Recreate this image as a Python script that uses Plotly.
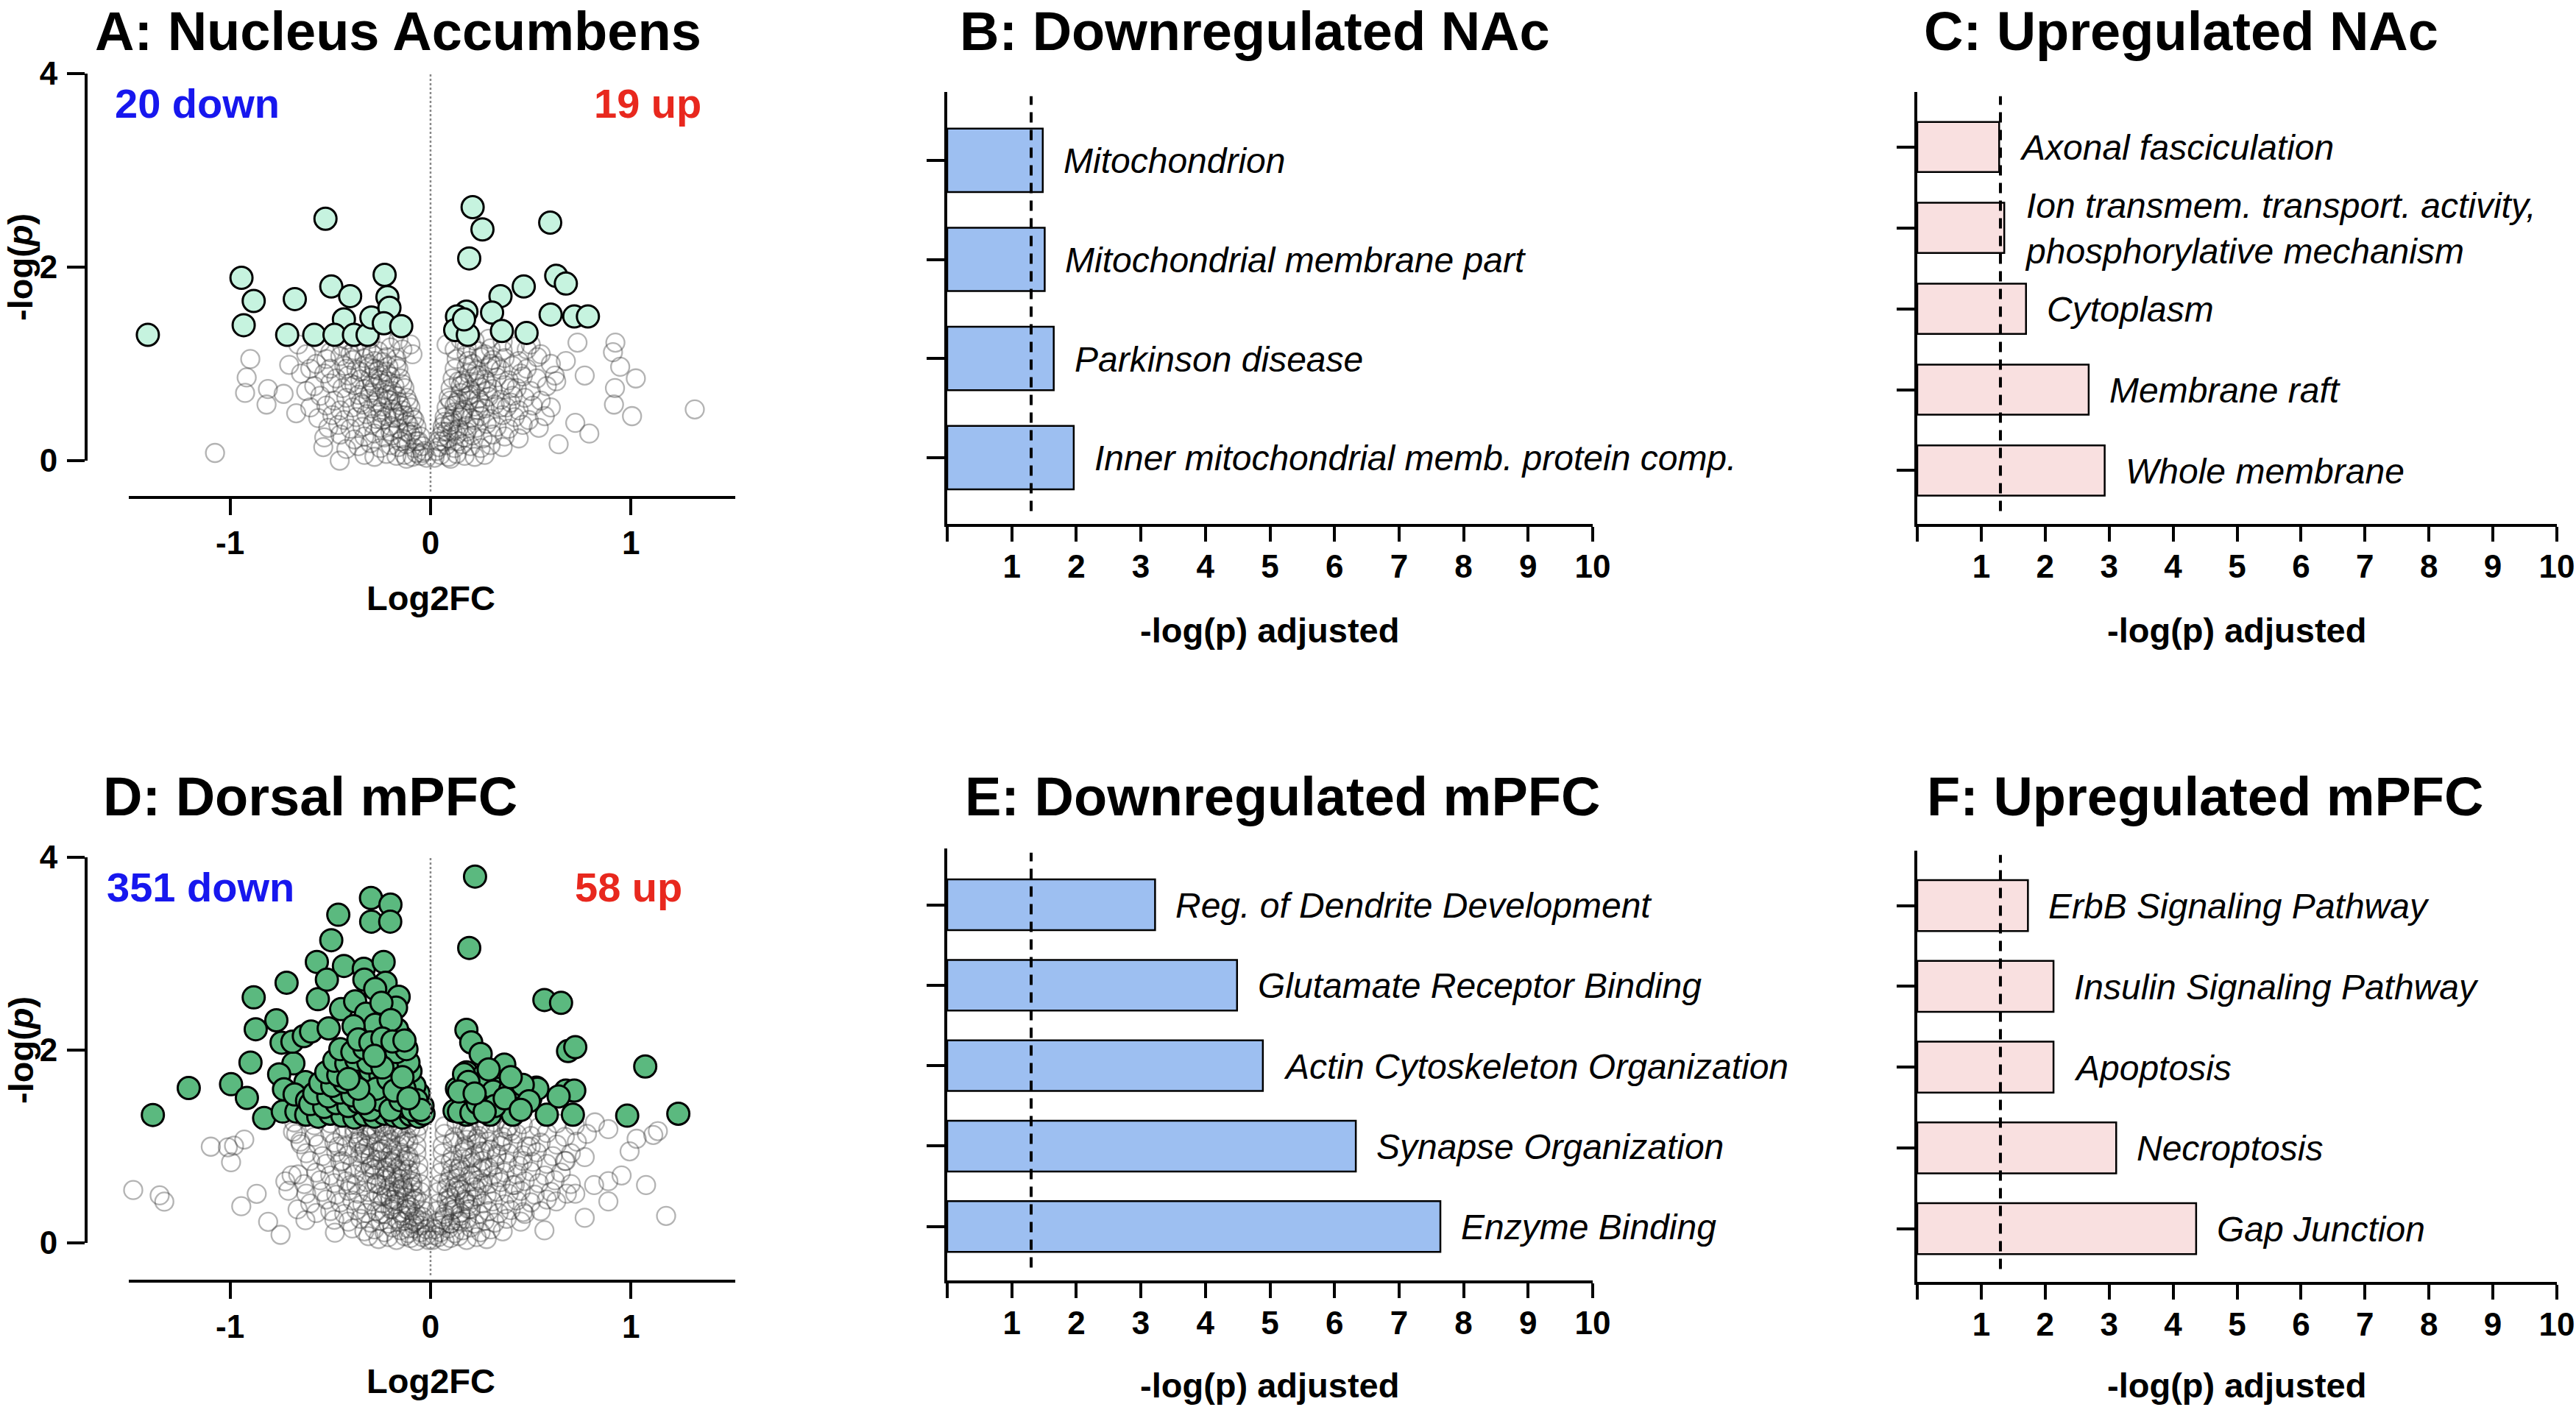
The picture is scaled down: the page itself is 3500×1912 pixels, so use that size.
import plotly.graph_objects as go

W, H = 3500, 1912
FONT = "Liberation Sans, Arial, Helvetica, sans-serif"

# ---------------- Panel A: Nucleus Accumbens volcano ----------------
nac_down_x = [-1.41, -0.943, -0.882, -0.932, -0.677, -0.715, -0.580, -0.524, -0.495, -0.401,
              -0.432, -0.479, -0.382, -0.314, -0.295, -0.229, -0.215, -0.205, -0.233, -0.146]
nac_down_y = [1.30, 1.89, 1.65, 1.40, 1.67, 1.30, 1.30, 2.50, 1.80, 1.70,
              1.46, 1.30, 1.30, 1.30, 1.48, 1.92, 1.69, 1.58, 1.42, 1.39]
nac_up_x = [0.210, 0.259, 0.193, 0.597, 0.627, 0.675, 0.465, 0.349, 0.307, 0.179,
            0.132, 0.123, 0.186, 0.356, 0.479, 0.599, 0.717, 0.785, 0.167]
nac_up_y = [2.62, 2.39, 2.09, 2.46, 1.91, 1.83, 1.80, 1.70, 1.53, 1.54,
            1.49, 1.35, 1.30, 1.34, 1.32, 1.51, 1.49, 1.49, 1.46]

nac_background = [
    # left arm
    (-0.02, 0.03), (-0.05, 0.05), (-0.09, 0.04), (-0.13, 0.06), (-0.17, 0.05), (-0.22, 0.07), (-0.28, 0.04), (-0.33, 0.06), (-0.12, 0.02), (-0.07, 0.08),
    (-0.04, 0.15), (-0.08, 0.13), (-0.12, 0.17), (-0.16, 0.14), (-0.20, 0.16), (-0.25, 0.13), (-0.30, 0.18), (-0.36, 0.15), (-0.42, 0.12),
    (-0.05, 0.25), (-0.10, 0.27), (-0.14, 0.23), (-0.19, 0.26), (-0.23, 0.24), (-0.28, 0.28), (-0.33, 0.25), (-0.38, 0.22), (-0.45, 0.27), (-0.53, 0.24),
    (-0.07, 0.35), (-0.11, 0.37), (-0.16, 0.33), (-0.20, 0.36), (-0.25, 0.34), (-0.29, 0.38), (-0.34, 0.35), (-0.40, 0.33), (-0.46, 0.37), (-0.51, 0.34),
    (-0.09, 0.45), (-0.13, 0.47), (-0.18, 0.44), (-0.22, 0.46), (-0.27, 0.43), (-0.32, 0.48), (-0.37, 0.45), (-0.43, 0.42), (-0.49, 0.47), (-0.56, 0.44),
    (-0.10, 0.55), (-0.15, 0.57), (-0.19, 0.53), (-0.24, 0.56), (-0.29, 0.54), (-0.34, 0.58), (-0.39, 0.55), (-0.45, 0.52), (-0.52, 0.57), (-0.60, 0.55),
    (-0.12, 0.65), (-0.17, 0.67), (-0.21, 0.63), (-0.26, 0.66), (-0.31, 0.64), (-0.36, 0.68), (-0.42, 0.65), (-0.48, 0.62), (-0.55, 0.67), (-0.62, 0.72),
    (-0.13, 0.75), (-0.18, 0.77), (-0.23, 0.73), (-0.28, 0.76), (-0.33, 0.74), (-0.38, 0.78), (-0.44, 0.75), (-0.50, 0.80), (-0.58, 0.77),
    (-0.15, 0.85), (-0.20, 0.87), (-0.25, 0.83), (-0.30, 0.86), (-0.35, 0.84), (-0.41, 0.88), (-0.47, 0.85), (-0.53, 0.90),
    (-0.16, 0.95), (-0.21, 0.97), (-0.26, 0.93), (-0.31, 0.96), (-0.37, 0.94), (-0.43, 0.98), (-0.50, 0.95), (-0.57, 1.00),
    (-0.17, 1.05), (-0.22, 1.07), (-0.28, 1.03), (-0.33, 1.06), (-0.39, 1.04), (-0.45, 1.08), (-0.52, 1.05),
    (-0.14, 1.15), (-0.20, 1.17), (-0.26, 1.13), (-0.32, 1.16), (-0.38, 1.14), (-0.44, 1.18), (-0.50, 1.12),
    (-0.16, 1.25), (-0.23, 1.24), (-0.30, 1.26), (-0.36, 1.23), (-0.42, 1.25),
    (-0.03, 0.10), (-0.06, 0.20), (-0.09, 0.30), (-0.12, 0.40), (-0.14, 0.52), (-0.16, 0.61), (-0.19, 0.72), (-0.21, 0.82), (-0.22, 0.92), (-0.24, 1.02),
    (-0.08, 0.42), (-0.11, 0.60), (-0.14, 0.79), (-0.17, 0.98), (-0.25, 0.50), (-0.30, 0.70), (-0.35, 0.92), (-0.40, 1.10),
    (-0.62, 1.10), (-0.66, 1.20), (-0.10, 1.20), (-0.09, 1.10), (-0.60, 0.95), (-0.55, 1.22), (-0.07, 0.20), (-0.04, 0.08),
    (-0.15, 0.20), (-0.20, 0.30), (-0.24, 0.42), (-0.27, 0.60), (-0.29, 0.80), (-0.31, 1.00), (-0.18, 0.50), (-0.22, 0.68),
    (-0.26, 0.88), (-0.29, 1.10), (-0.12, 0.30), (-0.16, 0.45), (-0.20, 0.62), (-0.24, 0.80), (-0.28, 0.95), (-0.35, 0.60),
    (-0.40, 0.80), (-0.42, 0.95),
    # left outliers
    (-1.075, 0.08), (-0.453, 0.00), (-0.535, 0.14), (-0.818, 0.58), (-0.811, 0.74), (-0.925, 0.70), (-0.917, 0.86),
    (-0.899, 1.05), (-0.733, 0.69), (-0.670, 0.49), (-0.705, 0.99), (-0.646, 0.90),
    # right arm
    (0.02, 0.03), (0.05, 0.06), (0.09, 0.04), (0.13, 0.07), (0.17, 0.05), (0.22, 0.04), (0.27, 0.06), (0.10, 0.02),
    (0.04, 0.14), (0.08, 0.16), (0.12, 0.13), (0.16, 0.17), (0.20, 0.15), (0.25, 0.13), (0.30, 0.16), (0.36, 0.14),
    (0.05, 0.25), (0.09, 0.23), (0.13, 0.27), (0.17, 0.24), (0.21, 0.26), (0.26, 0.23), (0.31, 0.27), (0.37, 0.25), (0.44, 0.23),
    (0.06, 0.35), (0.10, 0.37), (0.14, 0.33), (0.18, 0.36), (0.23, 0.34), (0.28, 0.38), (0.33, 0.35), (0.39, 0.33), (0.46, 0.37), (0.54, 0.34),
    (0.07, 0.45), (0.11, 0.43), (0.16, 0.47), (0.20, 0.44), (0.25, 0.46), (0.30, 0.43), (0.36, 0.47), (0.42, 0.45), (0.49, 0.42), (0.57, 0.46),
    (0.08, 0.55), (0.12, 0.57), (0.17, 0.53), (0.22, 0.56), (0.27, 0.54), (0.32, 0.58), (0.38, 0.55), (0.44, 0.52), (0.51, 0.57), (0.60, 0.55),
    (0.09, 0.65), (0.14, 0.63), (0.19, 0.67), (0.24, 0.64), (0.29, 0.66), (0.35, 0.63), (0.41, 0.67), (0.47, 0.65), (0.55, 0.62),
    (0.10, 0.75), (0.15, 0.77), (0.20, 0.73), (0.25, 0.76), (0.31, 0.74), (0.37, 0.78), (0.43, 0.75), (0.50, 0.72), (0.58, 0.77),
    (0.11, 0.85), (0.16, 0.83), (0.22, 0.87), (0.27, 0.84), (0.33, 0.86), (0.39, 0.83), (0.46, 0.87), (0.53, 0.85),
    (0.12, 0.95), (0.18, 0.97), (0.23, 0.93), (0.29, 0.96), (0.35, 0.94), (0.41, 0.98), (0.48, 0.95),
    (0.13, 1.05), (0.19, 1.03), (0.25, 1.07), (0.31, 1.04), (0.37, 1.06), (0.44, 1.03),
    (0.12, 1.15), (0.18, 1.17), (0.24, 1.13), (0.30, 1.16), (0.36, 1.14), (0.42, 1.18),
    (0.15, 1.25), (0.22, 1.24), (0.29, 1.26), (0.36, 1.23),
    (0.03, 0.10), (0.06, 0.20), (0.08, 0.30), (0.10, 0.40), (0.12, 0.50), (0.13, 0.60), (0.15, 0.70), (0.17, 0.80), (0.19, 0.90), (0.21, 1.00),
    (0.07, 0.40), (0.10, 0.62), (0.14, 0.82), (0.18, 1.10), (0.24, 0.52), (0.28, 0.72), (0.33, 0.98), (0.40, 0.60),
    (0.50, 1.20), (0.55, 1.10), (0.60, 1.00), (0.08, 1.20), (0.48, 1.15), (0.62, 0.88), (0.04, 0.20), (0.06, 0.30),
    (0.14, 0.20), (0.18, 0.30), (0.22, 0.42), (0.25, 0.60), (0.28, 0.80), (0.30, 1.00), (0.16, 0.50), (0.20, 0.68),
    (0.24, 0.88), (0.27, 1.10), (0.11, 0.30), (0.15, 0.45), (0.19, 0.62), (0.23, 0.80), (0.35, 0.55), (0.40, 0.75),
    (0.45, 0.90),
    # right outliers
    (1.318, 0.53), (1.005, 0.46), (0.915, 0.58), (0.920, 0.75), (1.024, 0.85), (0.946, 0.97), (0.910, 1.12),
    (0.922, 1.22), (0.733, 1.22), (0.769, 0.88), (0.792, 0.28), (0.722, 0.39), (0.639, 0.17), (0.627, 0.82),
    (0.533, 1.07), (0.675, 1.03),
]

# ---------------- Panel D: Dorsal mPFC volcano ----------------
pfc_down = [
    (-1.385, 1.327), (-1.206, 1.607), (-0.995, 1.646), (-0.916, 1.504), (-0.898, 1.871), (-0.872, 2.216),
    (-0.882, 2.547), (-0.830, 1.295), (-0.718, 2.699), (-0.769, 2.309), (-0.743, 2.077), (-0.684, 1.862),
    (-0.755, 1.749), (-0.731, 1.594), (-0.737, 1.362), (-0.669, 1.362), (-0.689, 2.087), (-0.632, 2.145),
    (-0.596, 2.193), (-0.562, 2.528), (-0.567, 2.915), (-0.495, 3.140), (-0.460, 3.404), (-0.297, 3.578),
    (-0.200, 3.510), (-0.296, 3.333), (-0.201, 3.333), (-0.432, 2.873), (-0.517, 2.731), (-0.446, 2.425),
    (-0.333, 2.844), (-0.234, 2.915), (-0.508, 2.225), (-0.330, 2.731), (-0.224, 2.699), (-0.159, 2.554),
    (-0.172, 2.441), (-0.276, 2.634), (-0.376, 2.506), (-0.322, 2.377), (-0.245, 2.490), (-0.276, 2.264),
    (-0.144, 2.135), (-0.167, 2.216), (-0.384, 2.248), (-0.198, 2.312), (-0.624, 1.668), (-0.678, 1.540),
    (-0.616, 1.475),
    (-0.62, 1.33), (-0.56, 1.31), (-0.50, 1.34), (-0.44, 1.32), (-0.38, 1.30), (-0.33, 1.33), (-0.28, 1.31),
    (-0.23, 1.34), (-0.18, 1.32), (-0.14, 1.30), (-0.10, 1.33), (-0.06, 1.31), (-0.035, 1.34),
    (-0.60, 1.44), (-0.53, 1.41), (-0.47, 1.45), (-0.41, 1.42), (-0.36, 1.46), (-0.31, 1.41), (-0.26, 1.44),
    (-0.21, 1.42), (-0.16, 1.45), (-0.12, 1.41), (-0.08, 1.44), (-0.04, 1.42),
    (-0.58, 1.55), (-0.51, 1.52), (-0.45, 1.56), (-0.39, 1.53), (-0.34, 1.57), (-0.29, 1.52), (-0.24, 1.55),
    (-0.19, 1.53), (-0.14, 1.56), (-0.10, 1.52), (-0.06, 1.55),
    (-0.55, 1.66), (-0.49, 1.63), (-0.43, 1.67), (-0.37, 1.64), (-0.32, 1.68), (-0.27, 1.63), (-0.22, 1.66),
    (-0.17, 1.64), (-0.12, 1.67), (-0.08, 1.63),
    (-0.52, 1.77), (-0.46, 1.74), (-0.40, 1.78), (-0.35, 1.75), (-0.30, 1.79), (-0.25, 1.74), (-0.20, 1.77),
    (-0.15, 1.75), (-0.10, 1.78),
    (-0.48, 1.89), (-0.42, 1.86), (-0.37, 1.90), (-0.31, 1.87), (-0.26, 1.91), (-0.21, 1.86), (-0.16, 1.89),
    (-0.11, 1.87),
    (-0.45, 2.01), (-0.39, 1.98), (-0.33, 2.02), (-0.28, 1.99), (-0.22, 2.03), (-0.17, 1.98), (-0.12, 2.01),
    (-0.36, 2.11), (-0.30, 2.08), (-0.24, 2.12), (-0.19, 2.09), (-0.13, 2.10),
    (-0.30, 1.38), (-0.25, 1.48), (-0.20, 1.38), (-0.15, 1.48), (-0.09, 1.38), (-0.27, 1.60), (-0.21, 1.70),
    (-0.13, 1.60), (-0.07, 1.48), (-0.33, 1.45), (-0.18, 1.58), (-0.24, 1.82), (-0.14, 1.72), (-0.05, 1.38),
    (-0.11, 1.50), (-0.36, 1.60), (-0.41, 1.70), (-0.28, 1.94),
]
pfc_up = [
    (0.222, 3.80), (0.193, 3.06), (0.568, 2.52), (0.651, 2.49), (0.686, 1.99), (0.722, 2.03), (1.071, 1.83),
    (0.981, 1.32), (1.236, 1.34), (0.675, 1.58), (0.717, 1.58), (0.710, 1.33), (0.580, 1.33), (0.498, 1.50),
    (0.528, 1.61), (0.410, 1.33), (0.368, 1.85), (0.297, 1.33), (0.179, 1.33), (0.120, 1.37), (0.132, 1.60),
    (0.179, 2.21), (0.203, 2.08), (0.250, 1.96), (0.179, 1.77), (0.262, 1.73), (0.344, 1.60), (0.439, 1.64),
    (0.533, 1.60), (0.639, 1.52), (0.142, 1.36), (0.204, 1.35), (0.266, 1.67), (0.313, 1.57), (0.398, 1.59),
    (0.460, 1.64), (0.491, 1.47), (0.167, 1.75), (0.189, 1.67), (0.142, 1.57), (0.235, 1.45), (0.32, 1.42),
    (0.37, 1.50), (0.27, 1.36), (0.45, 1.38), (0.22, 1.55), (0.29, 1.80), (0.40, 1.72),
]
pfc_background = [
    # left arm
    (-0.01, 0.03), (-0.04, 0.06), (-0.07, 0.02), (-0.10, 0.05), (-0.13, 0.07), (-0.17, 0.03), (-0.21, 0.06), (-0.26, 0.04), (-0.31, 0.07),
    (-0.02, 0.14), (-0.05, 0.11), (-0.08, 0.15), (-0.11, 0.10), (-0.15, 0.13), (-0.19, 0.16), (-0.23, 0.11), (-0.28, 0.14), (-0.33, 0.12), (-0.39, 0.15),
    (-0.03, 0.21), (-0.06, 0.24), (-0.09, 0.20), (-0.13, 0.23), (-0.17, 0.25), (-0.21, 0.20), (-0.25, 0.23), (-0.30, 0.21), (-0.35, 0.25), (-0.41, 0.22), (-0.48, 0.24),
    (-0.03, 0.33), (-0.07, 0.30), (-0.11, 0.34), (-0.15, 0.31), (-0.19, 0.35), (-0.23, 0.30), (-0.27, 0.33), (-0.32, 0.31), (-0.37, 0.34), (-0.43, 0.30), (-0.50, 0.33), (-0.57, 0.31),
    (-0.04, 0.41), (-0.08, 0.44), (-0.12, 0.40), (-0.16, 0.43), (-0.20, 0.45), (-0.24, 0.41), (-0.29, 0.43), (-0.34, 0.40), (-0.39, 0.44), (-0.45, 0.42), (-0.52, 0.45), (-0.60, 0.41),
    (-0.05, 0.53), (-0.09, 0.50), (-0.13, 0.54), (-0.17, 0.51), (-0.21, 0.55), (-0.26, 0.50), (-0.31, 0.53), (-0.36, 0.51), (-0.41, 0.54), (-0.47, 0.50), (-0.54, 0.53), (-0.62, 0.51),
    (-0.05, 0.61), (-0.09, 0.64), (-0.14, 0.60), (-0.18, 0.63), (-0.22, 0.65), (-0.27, 0.61), (-0.32, 0.63), (-0.37, 0.60), (-0.42, 0.64), (-0.48, 0.62), (-0.55, 0.65), (-0.63, 0.61),
    (-0.06, 0.73), (-0.10, 0.70), (-0.14, 0.74), (-0.19, 0.71), (-0.23, 0.75), (-0.28, 0.70), (-0.33, 0.73), (-0.38, 0.71), (-0.44, 0.74), (-0.50, 0.70), (-0.57, 0.73), (-0.66, 0.71),
    (-0.06, 0.81), (-0.10, 0.84), (-0.15, 0.80), (-0.19, 0.83), (-0.24, 0.85), (-0.29, 0.81), (-0.34, 0.83), (-0.39, 0.80), (-0.45, 0.84), (-0.52, 0.82), (-0.60, 0.85),
    (-0.07, 0.93), (-0.11, 0.90), (-0.15, 0.94), (-0.20, 0.91), (-0.25, 0.95), (-0.30, 0.90), (-0.35, 0.93), (-0.41, 0.91), (-0.47, 0.94), (-0.54, 0.90), (-0.62, 0.93),
    (-0.07, 1.01), (-0.11, 1.04), (-0.16, 1.00), (-0.21, 1.03), (-0.26, 1.05), (-0.31, 1.01), (-0.36, 1.03), (-0.42, 1.00), (-0.48, 1.04), (-0.56, 1.02), (-0.65, 1.05),
    (-0.07, 1.13), (-0.12, 1.10), (-0.17, 1.14), (-0.22, 1.11), (-0.27, 1.15), (-0.32, 1.10), (-0.38, 1.13), (-0.44, 1.11), (-0.50, 1.14), (-0.58, 1.10), (-0.67, 1.13),
    (-0.06, 1.21), (-0.11, 1.24), (-0.16, 1.20), (-0.21, 1.23), (-0.26, 1.25), (-0.31, 1.21), (-0.37, 1.23), (-0.43, 1.20), (-0.50, 1.24), (-0.58, 1.22), (-0.68, 1.25),
    (-0.02, 0.08), (-0.05, 0.18), (-0.08, 0.27), (-0.10, 0.37), (-0.12, 0.47), (-0.14, 0.57), (-0.16, 0.67), (-0.17, 0.77), (-0.18, 0.87),
    (-0.19, 0.97), (-0.20, 1.07), (-0.19, 1.17), (-0.14, 0.28), (-0.18, 0.40), (-0.22, 0.50), (-0.25, 0.60), (-0.28, 0.76), (-0.30, 0.88),
    (-0.33, 0.98), (-0.35, 1.08), (-0.29, 1.18), (-0.24, 0.97), (-0.22, 0.78), (-0.12, 0.90), (-0.10, 1.19), (-0.25, 0.30), (-0.07, 0.46), (-0.04, 0.27),
    (-0.13, 1.05), (-0.23, 1.16), (-0.15, 0.66), (-0.20, 0.58), (-0.27, 0.86), (-0.11, 0.76), (-0.32, 1.17), (-0.09, 0.58),
    (-0.15, 0.22), (-0.20, 0.35), (-0.24, 0.48), (-0.27, 0.62), (-0.30, 0.78), (-0.33, 0.92), (-0.36, 1.05), (-0.38, 1.18),
    (-0.18, 0.45), (-0.22, 0.70), (-0.26, 0.95), (-0.30, 1.12), (-0.12, 0.35), (-0.16, 0.55), (-0.20, 0.85), (-0.24, 1.20),
    (-0.40, 0.60), (-0.44, 0.85), (-0.46, 1.00), (-0.10, 0.62), (-0.13, 0.85), (-0.15, 1.10), (-0.08, 0.22), (-0.11, 0.15),
    # left outliers
    (-1.483, 0.548), (-1.351, 0.493), (-1.328, 0.428), (-1.096, 0.998), (-0.995, 0.837), (-1.011, 0.992), (-0.929, 1.072),
    (-0.980, 1.008), (-0.944, 0.380), (-0.867, 0.509), (-0.810, 0.219), (-0.748, 0.084), (-0.693, 0.702), (-0.709, 0.541),
    (-0.663, 0.348), (-0.624, 0.235), (-0.477, 0.106), (-0.724, 0.638), (-0.686, 1.153), (-0.647, 1.024),
    # right arm
    (0.01, 0.03), (0.04, 0.06), (0.07, 0.02), (0.10, 0.05), (0.14, 0.07), (0.18, 0.03), (0.23, 0.06), (0.28, 0.04),
    (0.02, 0.14), (0.05, 0.11), (0.09, 0.15), (0.12, 0.10), (0.16, 0.13), (0.20, 0.16), (0.25, 0.11), (0.30, 0.14), (0.36, 0.12),
    (0.03, 0.21), (0.06, 0.24), (0.10, 0.20), (0.14, 0.23), (0.18, 0.25), (0.22, 0.20), (0.27, 0.23), (0.32, 0.21), (0.38, 0.25), (0.45, 0.22),
    (0.03, 0.33), (0.07, 0.30), (0.11, 0.34), (0.15, 0.31), (0.20, 0.35), (0.24, 0.30), (0.29, 0.33), (0.34, 0.31), (0.40, 0.34), (0.47, 0.30), (0.55, 0.33),
    (0.04, 0.41), (0.08, 0.44), (0.12, 0.40), (0.17, 0.43), (0.21, 0.45), (0.26, 0.41), (0.31, 0.43), (0.37, 0.40), (0.43, 0.44), (0.50, 0.42), (0.58, 0.45),
    (0.04, 0.53), (0.09, 0.50), (0.13, 0.54), (0.18, 0.51), (0.23, 0.55), (0.28, 0.50), (0.33, 0.53), (0.39, 0.51), (0.45, 0.54), (0.52, 0.50), (0.60, 0.53), (0.68, 0.51),
    (0.05, 0.61), (0.09, 0.64), (0.14, 0.60), (0.19, 0.63), (0.24, 0.65), (0.29, 0.61), (0.35, 0.63), (0.41, 0.60), (0.47, 0.64), (0.54, 0.62), (0.62, 0.65), (0.70, 0.61),
    (0.05, 0.73), (0.10, 0.70), (0.15, 0.74), (0.20, 0.71), (0.25, 0.75), (0.31, 0.70), (0.37, 0.73), (0.43, 0.71), (0.50, 0.74), (0.57, 0.70), (0.65, 0.73),
    (0.06, 0.81), (0.10, 0.84), (0.15, 0.80), (0.21, 0.83), (0.26, 0.85), (0.32, 0.81), (0.38, 0.83), (0.44, 0.80), (0.51, 0.84), (0.58, 0.82), (0.67, 0.85),
    (0.06, 0.93), (0.11, 0.90), (0.16, 0.94), (0.22, 0.91), (0.27, 0.95), (0.33, 0.90), (0.39, 0.93), (0.46, 0.91), (0.53, 0.94), (0.61, 0.90), (0.70, 0.93),
    (0.06, 1.01), (0.11, 1.04), (0.17, 1.00), (0.23, 1.03), (0.29, 1.05), (0.35, 1.01), (0.41, 1.03), (0.48, 1.00), (0.55, 1.04), (0.63, 1.02), (0.73, 1.05),
    (0.07, 1.13), (0.12, 1.10), (0.18, 1.14), (0.24, 1.11), (0.30, 1.15), (0.36, 1.10), (0.43, 1.13), (0.50, 1.11), (0.58, 1.14), (0.67, 1.10), (0.78, 1.13),
    (0.07, 1.21), (0.13, 1.24), (0.19, 1.20), (0.25, 1.23), (0.32, 1.25), (0.39, 1.21), (0.46, 1.23), (0.54, 1.20), (0.63, 1.24), (0.72, 1.22), (0.82, 1.25),
    (0.02, 0.08), (0.05, 0.18), (0.07, 0.27), (0.09, 0.37), (0.10, 0.47), (0.12, 0.57), (0.13, 0.67), (0.14, 0.77), (0.16, 0.87),
    (0.17, 0.97), (0.18, 1.07), (0.17, 1.17), (0.15, 0.28), (0.19, 0.40), (0.22, 0.58), (0.26, 0.78), (0.30, 0.97), (0.27, 1.18),
    (0.08, 0.57), (0.11, 0.77), (0.20, 0.88), (0.23, 1.08), (0.34, 0.68), (0.40, 1.16),
    (0.15, 0.22), (0.19, 0.35), (0.23, 0.48), (0.26, 0.62), (0.29, 0.78), (0.33, 0.92), (0.36, 1.05), (0.38, 1.18),
    (0.17, 0.45), (0.21, 0.70), (0.25, 0.95), (0.12, 0.35), (0.15, 0.55), (0.20, 1.15), (0.42, 0.60), (0.46, 0.85),
    (0.50, 1.00), (0.10, 0.20),
    # right outliers
    (1.175, 0.28), (1.075, 0.60), (0.953, 0.70), (0.887, 0.64), (1.111, 1.12), (1.134, 1.16), (1.028, 1.08), (0.993, 0.95),
    (0.887, 1.18), (0.769, 0.26), (0.568, 0.13), (0.462, 0.32), (0.769, 0.89), (0.816, 0.60), (0.627, 0.43), (0.675, 0.85),
    (0.887, 0.43), (0.722, 0.51),
]

# ---------------- Enrichment bar panels ----------------
b_terms = ["Mitochondrion", "Mitochondrial membrane part", "Parkinson disease",
           "Inner mitochondrial memb. protein comp."]
b_vals = [1.48, 1.51, 1.65, 1.96]
c_terms = ["Axonal fasciculation", "Ion transmem. transport. activity,<br>phosphorylative mechanism",
           "Cytoplasm", "Membrane raft", "Whole membrane"]
c_vals = [1.28, 1.36, 1.70, 2.68, 2.93]
e_terms = ["Reg. of Dendrite Development", "Glutamate Receptor Binding",
           "Actin Cytoskeleton Organization", "Synapse Organization", "Enzyme Binding"]
e_vals = [3.22, 4.49, 4.89, 6.33, 7.64]
f_terms = ["ErbB Signaling Pathway", "Insulin Signaling Pathway", "Apoptosis",
           "Necroptosis", "Gap Junction"]
f_vals = [1.73, 2.13, 2.13, 3.11, 4.36]
sig_threshold = 1.3

bar_ticks = list(range(0, 11))
bar_ticktext = [""] + [str(v) for v in range(1, 11)]
volc_xticks = [-1, 0, 1]
volc_yticks = [0, 2, 4]

panel_titles = ["A: Nucleus Accumbens", "B: Downregulated NAc", "C: Upregulated NAc",
                "D: Dorsal mPFC", "E: Downregulated mPFC", "F: Upregulated mPFC"]

BLUE_BAR = "#9dbff1"
PINK_BAR = "#f9e0e0"
MINT = "#c6f3df"
GREEN = "#5bb97f"
GRAY_LINE = "rgba(50,50,50,0.37)"


def px(x):
    return x / W


def py(y):
    return 1 - y / H


fig = go.Figure()


def add_volcano(bg, dx, dy, ux, uy, fill, xa, ya):
    fig.add_trace(go.Scatter(
        x=[p[0] for p in bg], y=[p[1] for p in bg], mode="markers", xaxis=xa, yaxis=ya,
        marker=dict(size=25, color="rgba(0,0,0,0)", line=dict(color=GRAY_LINE, width=2.3)),
        cliponaxis=False, showlegend=False, hoverinfo="skip"))
    fig.add_trace(go.Scatter(
        x=dx + ux, y=dy + uy, mode="markers", xaxis=xa, yaxis=ya,
        marker=dict(size=30, color=fill, line=dict(color="black", width=3)),
        cliponaxis=False, showlegend=False))


add_volcano(nac_background, nac_down_x, nac_down_y, nac_up_x, nac_up_y, MINT, "x", "y")
add_volcano(pfc_background, [p[0] for p in pfc_down], [p[1] for p in pfc_down],
            [p[0] for p in pfc_up], [p[1] for p in pfc_up], GREEN, "x4", "y4")

bar_specs = [
    (b_terms, b_vals, BLUE_BAR, "x2", "y2", 0.64),
    (c_terms, c_vals, PINK_BAR, "x3", "y3", 0.62),
    (e_terms, e_vals, BLUE_BAR, "x5", "y5", 0.63),
    (f_terms, f_vals, PINK_BAR, "x6", "y6", 0.63),
]
for terms, vals, col, xa, ya, wdt in bar_specs:
    fig.add_trace(go.Bar(
        x=vals, y=terms, orientation="h", xaxis=xa, yaxis=ya, width=wdt,
        marker=dict(color=col, line=dict(color="black", width=2.5)),
        showlegend=False))

tickfont_b = dict(family=FONT, size=44, color="black", weight="bold")
axis_common = dict(showgrid=False, zeroline=False, showline=True, linecolor="black", linewidth=4,
                   ticks="outside", tickwidth=4, tickcolor="black", automargin=False,
                   tickfont=tickfont_b, fixedrange=True)

layout_axes = {}
for xa, ya, ytop, y0px, xaxpx in [("xaxis", "yaxis", 100, 626, 676), ("xaxis4", "yaxis4", 1165, 1689, 1741)]:
    layout_axes[xa] = dict(axis_common, domain=[px(175), px(999)], range=[-1.505, 1.52],
                           anchor="free", position=py(xaxpx), tickvals=volc_xticks,
                           ticktext=["-1", "0", "1"], ticklen=22, ticklabelstandoff=0)
    layout_axes[ya] = dict(axis_common, domain=[py(y0px), py(ytop)], range=[0, 4],
                           anchor="free", position=px(117), tickvals=volc_yticks,
                           ticklen=24, ticklabelstandoff=4)

bar_geo = [
    ("xaxis2", "yaxis2", 1287, 2164, 125, 712, b_terms, [3.67, -0.69]),
    ("xaxis3", "yaxis3", 2605, 3474, 125, 712, c_terms, [4.66, -0.68]),
    ("xaxis5", "yaxis5", 1287, 2164, 1153, 1740, e_terms, [4.67, -0.70]),
    ("xaxis6", "yaxis6", 2605, 3474, 1156, 1742, f_terms, [4.66, -0.68]),
]
for xa, ya, x0, x1, ytop, ybot, terms, yr in bar_geo:
    xid = xa.replace("axis", "")
    yid = ya.replace("axis", "")
    layout_axes[xa] = dict(axis_common, domain=[px(x0), px(x1)], range=[0, 10], anchor=yid,
                           tickvals=bar_ticks, ticktext=bar_ticktext, ticklen=20,
                           ticklabelstandoff=-4)
    layout_axes[ya] = dict(axis_common, domain=[py(ybot), py(ytop)], type="category",
                           categoryorder="array", categoryarray=terms, range=yr, anchor=xid,
                           ticklen=24, showticklabels=False)

ann = []
# top-row titles hang from the top edge; bottom-row titles are centred on their measured height
title_pos = [(541, None), (1705, None), (2963, None), (421, 1082), (1742, 1082), (2996, 1082)]
for t, (cx, cy) in zip(panel_titles, title_pos):
    a = dict(text="<b>" + t + "</b>", x=px(cx), xref="paper", yref="paper",
             xanchor="center", showarrow=False, borderpad=0,
             font=dict(family=FONT, size=74, color="black"))
    if cy is None:
        a.update(y=1, yanchor="top")
    else:
        a.update(y=py(cy), yanchor="middle")
    ann.append(a)

count_labels = [("20 down", "#1717ee", 268, 141), ("19 up", "#e8281e", 880, 141),
                ("351 down", "#1717ee", 272, 1205), ("58 up", "#e8281e", 854, 1205)]
for t, col, cx, cy in count_labels:
    ann.append(dict(text="<b>" + t + "</b>", x=px(cx), y=py(cy), xref="paper", yref="paper",
                    xanchor="center", yanchor="middle", showarrow=False,
                    font=dict(family=FONT, size=56, color=col)))

for lx_y, ly_y in [(812, 363), (1876, 1427)]:
    ann.append(dict(text="<b>Log2FC</b>", x=px(585), y=py(lx_y), xref="paper", yref="paper",
                    xanchor="center", yanchor="middle", showarrow=False,
                    font=dict(family=FONT, size=47, color="black")))
    ann.append(dict(text="<b>-log(<i>p</i>)</b>", x=px(28), y=py(ly_y), xref="paper", yref="paper",
                    xanchor="center", yanchor="middle", showarrow=False, textangle=-90,
                    font=dict(family=FONT, size=47, color="black")))

for cx, cy in [(1725, 856), (3039, 856), (1725, 1882), (3039, 1882)]:
    ann.append(dict(text="<b>-log(p) adjusted</b>", x=px(cx), y=py(cy), xref="paper", yref="paper",
                    xanchor="center", yanchor="middle", showarrow=False,
                    font=dict(family=FONT, size=47, color="black")))

for terms, vals, col, xa, ya, wdt in bar_specs:
    for t, v in zip(terms, vals):
        ann.append(dict(text="<i>" + t + "</i>", x=v, y=t, xref=xa, yref=ya, xanchor="left",
                        yanchor="middle", xshift=26, yshift=-1, showarrow=False, align="left",
                        font=dict(family=FONT, size=48, color="black")))

shapes = []
for xa, ytop, ybot in [("x", 100, 668), ("x4", 1165, 1733)]:
    shapes.append(dict(type="line", xref=xa, yref="paper", x0=0, x1=0, y0=py(ybot), y1=py(ytop),
                       line=dict(color="#888888", width=2.5, dash="dot")))
for terms, vals, col, xa, ya, wdt in bar_specs:
    shapes.append(dict(type="line", xref=xa, yref=ya + " domain", x0=sig_threshold, x1=sig_threshold,
                       y0=0.03, y1=0.99, line=dict(color="black", width=4, dash="14px,10px")))

fig.update_layout(
    width=W, height=H, template="none",
    margin=dict(l=0, r=0, t=0, b=0, pad=0),
    paper_bgcolor="white", plot_bgcolor="rgba(0,0,0,0)",
    font=dict(family=FONT, color="black"),
    showlegend=False, bargap=0,
    annotations=ann, shapes=shapes,
    **layout_axes,
)

fig.write_html(
    "out.html",
    config={"displayModeBar": False, "staticPlot": True},
    post_script="document.body.style.margin='0';document.body.style.padding='0';"
                "document.documentElement.style.overflow='hidden';document.body.style.overflow='hidden';",
)
